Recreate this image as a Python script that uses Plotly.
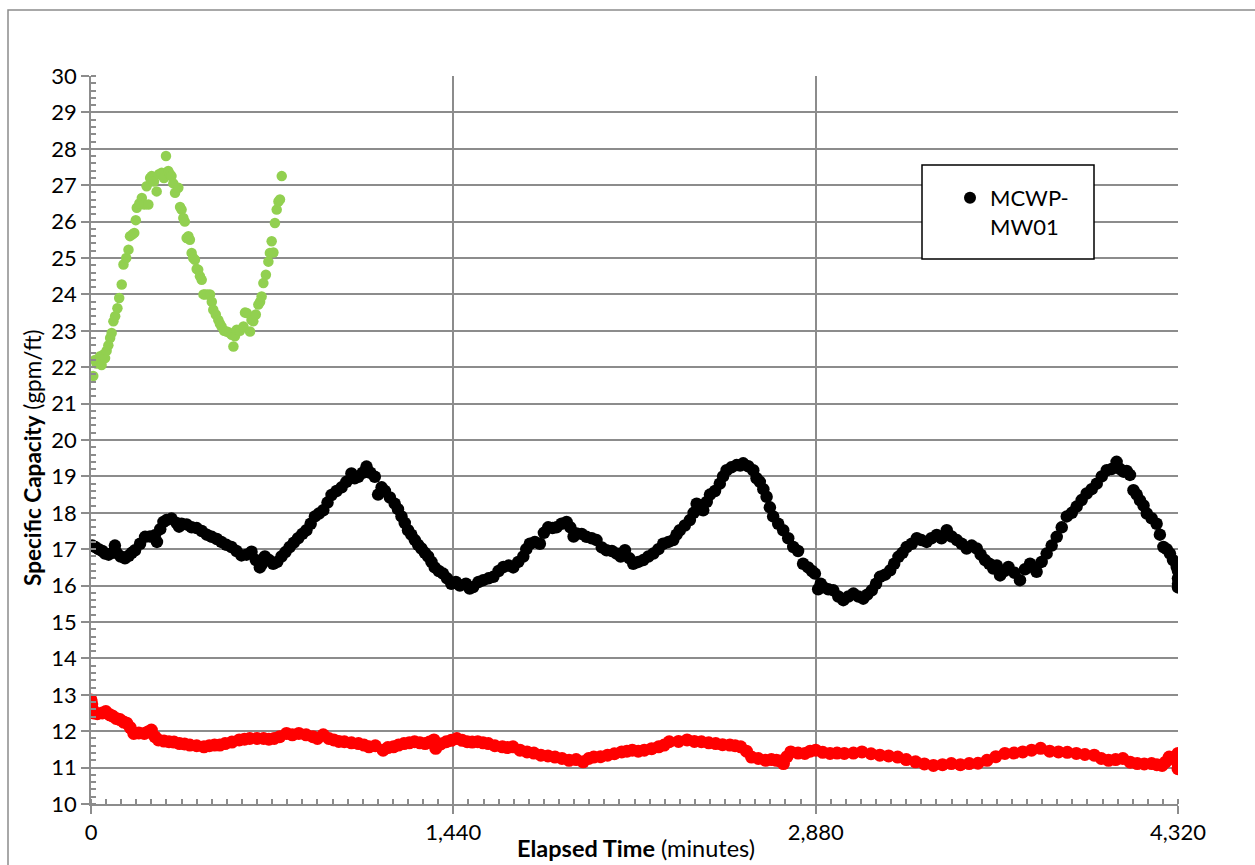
import plotly.graph_objects as go

# ---------------- data ----------------
green_t = [9, 16, 22, 36, 42, 50, 56, 62, 69, 76, 82, 89, 96, 105, 112, 122, 129, 140, 149, 155, 165,
           172, 178, 182, 192, 202, 212, 221, 228, 235, 241, 250, 261, 270, 281, 290, 298, 307, 314,
           320, 327, 334, 347, 354, 360, 367, 373, 380, 387, 393, 400, 406, 413, 420, 426, 433, 440,
           447, 453, 463, 473, 480, 486, 496, 506, 512, 519, 529, 539, 549, 559, 566, 572, 579, 592,
           606, 612, 619, 632, 638, 645, 655, 665, 672, 678, 685, 695, 705, 711, 718, 725, 731, 738,
           745, 751, 758]
green_v = [21.76, 22.2, 22.1, 22.3, 22.06, 22.35, 22.25, 22.45, 22.6, 22.8, 22.94, 23.26, 23.4, 23.62,
           23.9, 24.27, 24.82, 25.0, 25.23, 25.6, 25.65, 25.69, 26.04, 26.38, 26.5, 26.65, 26.47,
           26.97, 26.47, 27.2, 27.25, 27.1, 26.83, 27.3, 27.34, 27.2, 27.8, 27.39, 27.3, 27.25, 27.05,
           26.79, 26.93, 26.4, 26.33, 26.1, 26.0, 25.55, 25.6, 25.5, 25.14, 25.0, 24.95, 24.7, 24.68,
           24.5, 24.4, 24.0, 24.0, 24.0, 24.0, 23.8, 23.58, 23.45, 23.3, 23.2, 23.12, 23.0, 22.98,
           22.95, 22.89, 22.57, 22.85, 23.03, 23.0, 23.12, 23.5, 23.49, 22.98, 23.3, 23.26, 23.45,
           23.72, 23.8, 23.94, 24.31, 24.54, 24.9, 25.14, 25.46, 25.15, 25.96, 26.33, 26.55, 26.61,
           27.25]

black_t = [5, 16, 30, 45, 56, 70, 85, 95, 102, 118, 135, 150, 162, 175, 195, 215, 235, 254, 262, 275,
           288, 300, 320, 340, 350, 360, 380, 400, 420, 440, 460, 480, 500, 518, 538, 558, 578, 598,
           618, 638, 655, 671, 680, 691, 708, 724, 740, 757, 773, 790, 806, 823, 840, 856, 873, 890,
           906, 923, 940, 956, 976, 996, 1015, 1035, 1048, 1062, 1080, 1095, 1110, 1128, 1141, 1155,
           1168, 1188, 1207, 1220, 1234, 1247, 1260, 1273, 1287, 1300, 1313, 1327, 1340, 1353, 1366,
           1382, 1399, 1415, 1432, 1450, 1466, 1490, 1505, 1519, 1540, 1559, 1580, 1599, 1620, 1639,
           1660, 1678, 1698, 1718, 1730, 1744, 1764, 1784, 1800, 1817, 1834, 1850, 1870, 1890, 1905,
           1918, 1930, 1950, 1969, 1990, 2009, 2030, 2049, 2070, 2089, 2105, 2122, 2140, 2155, 2175,
           2195, 2215, 2235, 2255, 2274, 2295, 2314, 2327, 2340, 2360, 2380, 2395, 2407, 2420, 2433,
           2447, 2460, 2480, 2499, 2512, 2526, 2545, 2566, 2580, 2592, 2612, 2632, 2645, 2658, 2672,
           2685, 2698, 2711, 2731, 2751, 2771, 2791, 2810, 2830, 2850, 2865, 2877, 2890, 2900, 2910,
           2930, 2950, 2970, 2990, 3010, 3030, 3050, 3069, 3085, 3103, 3120, 3136, 3156, 3176, 3192,
           3209, 3225, 3242, 3262, 3282, 3300, 3321, 3340, 3361, 3380, 3401, 3420, 3441, 3460, 3480,
           3500, 3520, 3536, 3553, 3570, 3586, 3600, 3613, 3630, 3646, 3670, 3692, 3712, 3732, 3745,
           3758, 3778, 3798, 3818, 3838, 3858, 3878, 3898, 3917, 3937, 3957, 3977, 3997, 4017, 4037,
           4056, 4076, 4090, 4103, 4116, 4129, 4143, 4156, 4169, 4183, 4196, 4215, 4235, 4248, 4262,
           4275, 4288, 4300, 4315, 4320, 4320, 4320, 4320]
black_v = [17.1, 17.06, 17.0, 16.95, 16.88, 16.85, 16.9, 17.1, 16.9, 16.8, 16.75, 16.82, 16.9, 16.97,
           17.15, 17.34, 17.35, 17.38, 17.2, 17.55, 17.75, 17.8, 17.84, 17.72, 17.62, 17.7, 17.68,
           17.6, 17.58, 17.5, 17.4, 17.34, 17.28, 17.2, 17.12, 17.06, 16.95, 16.83, 16.85, 16.93,
           16.7, 16.5, 16.6, 16.8, 16.7, 16.6, 16.65, 16.8, 16.92, 17.06, 17.18, 17.3, 17.42, 17.52,
           17.7, 17.9, 17.98, 18.07, 18.28, 18.49, 18.6, 18.7, 18.85, 19.08, 18.95, 18.99, 19.1,
           19.27, 19.1, 18.99, 18.5, 18.7, 18.6, 18.42, 18.25, 18.1, 17.9, 17.72, 17.52, 17.4, 17.25,
           17.12, 17.02, 16.9, 16.8, 16.65, 16.5, 16.4, 16.33, 16.2, 16.05, 16.1, 16.0, 16.05, 15.92,
           15.96, 16.1, 16.15, 16.2, 16.24, 16.4, 16.51, 16.55, 16.5, 16.65, 16.8, 17.0, 17.15, 17.2,
           17.15, 17.45, 17.6, 17.58, 17.6, 17.7, 17.75, 17.6, 17.35, 17.43, 17.42, 17.34, 17.3,
           17.25, 17.05, 16.97, 16.95, 16.88, 16.8, 16.97, 16.75, 16.6, 16.65, 16.7, 16.8, 16.88,
           17.0, 17.15, 17.2, 17.25, 17.4, 17.52, 17.65, 17.8, 18.0, 18.25, 18.1, 18.07, 18.3, 18.5,
           18.6, 18.8, 19.0, 19.17, 19.25, 19.31, 19.3, 19.36, 19.28, 19.17, 18.95, 18.85, 18.65,
           18.44, 18.15, 17.9, 17.7, 17.52, 17.3, 17.06, 16.95, 16.6, 16.5, 16.4, 16.33, 15.9, 16.05,
           15.96, 15.9, 15.87, 15.7, 15.6, 15.7, 15.78, 15.7, 15.64, 15.75, 15.87, 16.05, 16.24,
           16.3, 16.42, 16.6, 16.79, 16.9, 17.06, 17.15, 17.3, 17.25, 17.2, 17.3, 17.39, 17.3, 17.52,
           17.35, 17.25, 17.15, 17.02, 17.1, 17.02, 16.85, 16.7, 16.6, 16.47, 16.55, 16.28, 16.4,
           16.51, 16.35, 16.15, 16.45, 16.6, 16.5, 16.38, 16.65, 16.88, 17.1, 17.34, 17.6, 17.9,
           18.0, 18.17, 18.35, 18.53, 18.65, 18.8, 19.0, 19.17, 19.2, 19.4, 19.2, 19.13, 19.15,
           19.04, 18.62, 18.5, 18.34, 18.2, 17.98, 17.85, 17.7, 17.4, 17.06, 17.0, 16.88, 16.7,
           16.51, 16.4, 16.2, 16.05, 15.95]

red_t = [0, 3, 6, 10, 25, 45, 59, 75, 85, 100, 115, 130, 142, 156, 170, 190, 212, 226, 240, 254, 268,
         290, 310, 330, 352, 372, 393, 420, 449, 470, 491, 512, 533, 560, 589, 610, 631, 660, 686,
         707, 728, 750, 777, 800, 826, 855, 882, 900, 923, 945, 965, 985, 1007, 1035, 1063, 1085,
         1105, 1130, 1161, 1180, 1202, 1222, 1244, 1265, 1286, 1307, 1328, 1345, 1363, 1370, 1390,
         1412, 1432, 1454, 1475, 1495, 1515, 1537, 1558, 1579, 1605, 1635, 1655, 1677, 1705, 1733,
         1760, 1788, 1816, 1844, 1872, 1900, 1928, 1956, 1978, 1998, 2025, 2053, 2080, 2109, 2130,
         2151, 2175, 2199, 2228, 2256, 2278, 2298, 2335, 2369, 2398, 2426, 2455, 2483, 2510, 2539,
         2560, 2582, 2605, 2625, 2652, 2681, 2704, 2724, 2740, 2752, 2766, 2781, 2810, 2837, 2858,
         2880, 2908, 2937, 2965, 2994, 3030, 3064, 3100, 3135, 3170, 3206, 3240, 3277, 3312, 3348,
         3384, 3419, 3455, 3490, 3525, 3561, 3596, 3632, 3668, 3703, 3738, 3774, 3810, 3845, 3880,
         3916, 3950, 3987, 4015, 4044, 4072, 4101, 4130, 4158, 4186, 4215, 4236, 4257, 4270, 4285,
         4300, 4313, 4320, 4320, 4320, 4320]
red_v = [12.86, 12.75, 12.6, 12.5, 12.48, 12.5, 12.54, 12.45, 12.42, 12.35, 12.32, 12.25, 12.22, 12.1,
         11.94, 11.95, 11.94, 11.98, 12.03, 11.85, 11.76, 11.73, 11.71, 11.7, 11.66, 11.65, 11.62,
         11.6, 11.57, 11.6, 11.62, 11.62, 11.66, 11.7, 11.76, 11.78, 11.8, 11.8, 11.8, 11.78, 11.8,
         11.85, 11.94, 11.9, 11.94, 11.9, 11.85, 11.8, 11.9, 11.8, 11.76, 11.72, 11.71, 11.68, 11.66,
         11.62, 11.57, 11.6, 11.48, 11.55, 11.57, 11.62, 11.66, 11.68, 11.71, 11.68, 11.66, 11.7,
         11.76, 11.53, 11.65, 11.71, 11.75, 11.8, 11.75, 11.71, 11.7, 11.71, 11.68, 11.66, 11.6,
         11.57, 11.55, 11.57, 11.48, 11.43, 11.4, 11.34, 11.32, 11.29, 11.25, 11.2, 11.22, 11.16,
         11.25, 11.29, 11.3, 11.34, 11.38, 11.43, 11.45, 11.48, 11.45, 11.48, 11.52, 11.57, 11.62,
         11.71, 11.72, 11.76, 11.72, 11.71, 11.68, 11.66, 11.63, 11.62, 11.6, 11.57, 11.45, 11.29,
         11.25, 11.2, 11.22, 11.2, 11.18, 11.11, 11.3, 11.43, 11.4, 11.39, 11.45, 11.48, 11.42,
         11.39, 11.4, 11.39, 11.4, 11.43, 11.38, 11.34, 11.32, 11.29, 11.22, 11.16, 11.1, 11.06,
         11.08, 11.11, 11.08, 11.11, 11.12, 11.2, 11.3, 11.39, 11.4, 11.43, 11.48, 11.53, 11.45,
         11.43, 11.42, 11.39, 11.36, 11.34, 11.25, 11.2, 11.22, 11.25, 11.15, 11.11, 11.1, 11.11,
         11.08, 11.06, 11.15, 11.29, 11.25, 11.2, 10.97, 11.1, 11.25, 11.39]

x_ticks = [0, 1440, 2880, 4320]
x_ticktext = ["0", "1,440", "2,880", "4,320"]
legend_name = "MCWP-<br>MW01"

# ---------------- figure ----------------
W, H = 1255, 865
L, R, T, B = 91, 77, 76, 61
pw, ph = W - L - R, H - T - B


def px(xp):
    return (xp - L) / pw


def py(yp):
    return (H - B - yp) / ph


GRID = "#8C8C8C"
FONT = "Lato"

fig = go.Figure()
fig.add_trace(go.Scatter(x=green_t, y=green_v, mode="markers",
                         marker=dict(color="#92D050", size=10.5), showlegend=False, name="green"))
fig.add_trace(go.Scatter(x=red_t, y=red_v, mode="markers",
                         marker=dict(color="#FF0000", size=13), showlegend=False, name="red"))
fig.add_trace(go.Scatter(x=black_t, y=black_v, mode="markers",
                         marker=dict(color="#000000", size=12.5), showlegend=True, name=legend_name))

axis_common = dict(
    showgrid=True, gridcolor=GRID, gridwidth=1.5,
    showline=True, linecolor=GRID, linewidth=1.5,
    ticks="outside", ticklen=8, tickcolor=GRID, tickwidth=1.5,
    zeroline=False, tickfont=dict(family=FONT, size=22, color="black"),
)

fig.update_xaxes(range=[0, 4320], tickmode="array", tickvals=x_ticks, ticktext=x_ticktext,
                 minor=dict(dtick=60, tick0=0, ticks="inside", ticklen=5, tickcolor=GRID,
                            tickwidth=1.5, showgrid=False),
                 **axis_common)
fig.update_yaxes(range=[10, 30], tickmode="linear", tick0=10, dtick=1,
                 minor=dict(dtick=0.2, tick0=10, ticks="inside", ticklen=5, tickcolor=GRID,
                            tickwidth=1.5, showgrid=False),
                 **axis_common)

fig.update_layout(
    width=W, height=H,
    margin=dict(l=L, r=R, t=T, b=B, autoexpand=False),
    paper_bgcolor="white", plot_bgcolor="white",
    font=dict(family=FONT, size=22, color="black"),
    showlegend=True,
    legend=dict(x=px(950), y=py(177), xanchor="left", yanchor="top",
                bgcolor="rgba(0,0,0,0)", borderwidth=0, valign="top",
                font=dict(family=FONT, size=22, color="black"), itemwidth=30,
                itemsizing="constant"),
    shapes=[
        dict(type="rect", xref="paper", yref="paper", x0=px(8), x1=px(1300), y0=py(10), y1=py(900),
             line=dict(color=GRID, width=1.5), fillcolor="rgba(0,0,0,0)", layer="below"),
        dict(type="rect", xref="paper", yref="paper", x0=px(922), x1=px(1094), y0=py(259), y1=py(165),
             line=dict(color="black", width=1.5), fillcolor="white", layer="above"),
    ],
    annotations=[
        dict(text="<b>Elapsed Time</b> (minutes)", xref="paper", yref="paper",
             x=px(636), y=py(848), xanchor="center", yanchor="middle", showarrow=False,
             font=dict(family=FONT, size=23.5, color="black")),
        dict(text="<b>Specific Capacity</b> (gpm/ft)", xref="paper", yref="paper",
             x=px(32), y=py(458), xanchor="center", yanchor="middle", showarrow=False,
             textangle=-90, font=dict(family=FONT, size=22.5, color="black")),
    ],
)

fig.write_html("out.html")
